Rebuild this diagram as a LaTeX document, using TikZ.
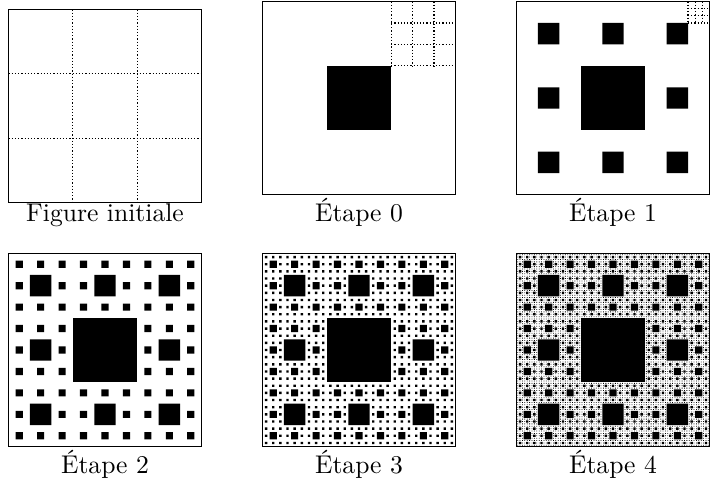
\documentclass[tikz,border=0pt]{standalone}
\begin{document}
\begin{tikzpicture}[x=0.5pt,y=-0.5pt,
  frame/.style={line width=0.95pt},
  grid/.style={line width=0.6pt,dash pattern=on 0.6pt off 1pt},
  caption/.style={font=\fontsize{10}{12}\selectfont,scale=1.28,anchor=base,inner sep=0pt}]
\useasboundingbox (0,0) rectangle (710,479);
\newcommand\mycarpet[1]{%
  \foreach \k in {1,...,#1} {%
    \pgfmathtruncatemacro\nn{3^(\k-1)}%
    \pgfmathsetmacro\cs{193/\nn}%
    \pgfmathtruncatemacro\nm{\nn-1}%
    \foreach \i in {0,...,\nm} {%
      \fill[black] foreach \j in {0,...,\nm} {({(\i+1/3)*\cs},{(\j+1/3)*\cs}) rectangle ++({\cs/3},{\cs/3})};
    }%
  }%
}
% Figure initiale
\begin{scope}[shift={(8.5,9.5)}]
  \draw[grid] (64.33,0) -- (64.33,193) (128.67,0) -- (128.67,193)
              (0,64.33) -- (193,64.33) (0,128.67) -- (193,128.67);
  \draw[frame] (0,0) rectangle (193,193);
\end{scope}
\node[caption] (c0) at (105,221) {Figure initiale};
% Etape 0
\begin{scope}[shift={(262.5,1.5)}]
  \mycarpet{1}
  \draw[grid] (128.67,0) -- (128.67,64.33) (150.11,0) -- (150.11,64.33) (171.56,0) -- (171.56,64.33)
              (128.67,21.44) -- (193,21.44) (128.67,42.89) -- (193,42.89) (128.67,64.33) -- (193,64.33);
  \draw[frame] (0,0) rectangle (193,193);
\end{scope}
\node[caption] (c1) at (359,221) {Étape 0};
% Etape 1
\begin{scope}[shift={(516.5,1.5)}]
  \mycarpet{2}
  \draw[grid] (171.56,0) -- (171.56,21.44) (178.7,0) -- (178.7,21.44) (185.85,0) -- (185.85,21.44)
              (171.56,7.15) -- (193,7.15) (171.56,14.3) -- (193,14.3) (171.56,21.44) -- (193,21.44);
  \draw[frame] (0,0) rectangle (193,193);
\end{scope}
\node[caption] (c2) at (613,221) {Étape 1};
% Etape 2
\begin{scope}[shift={(8.5,253.5)}]
  \mycarpet{3}
  \draw[frame] (0,0) rectangle (193,193);
\end{scope}
\node[caption] (c3) at (105,473) {Étape 2};
% Etape 3
\begin{scope}[shift={(262.5,253.5)}]
  \mycarpet{4}
  \draw[frame] (0,0) rectangle (193,193);
\end{scope}
\node[caption] (c4) at (359,473) {Étape 3};
% Etape 4
\begin{scope}[shift={(516.5,253.5)}]
  \mycarpet{5}
  \draw[frame] (0,0) rectangle (193,193);
\end{scope}
\node[caption] (c5) at (613,473) {Étape 4};
\end{tikzpicture}
\end{document}
